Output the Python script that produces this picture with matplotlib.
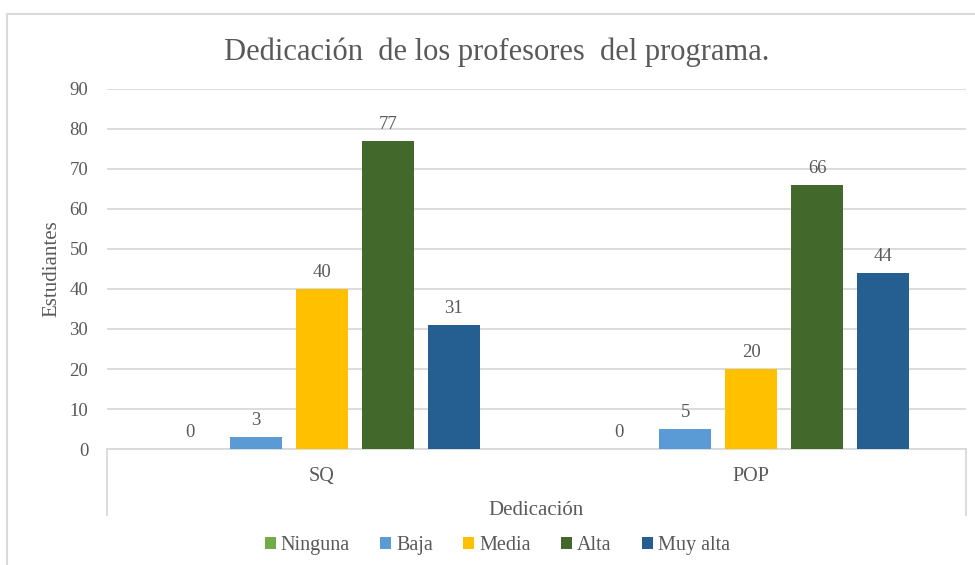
import matplotlib.pyplot as plt
import matplotlib.patches as mpatches
import numpy as np

# data
categories = ["SQ", "POP"]
levels = ["Ninguna", "Baja", "Media", "Alta", "Muy alta"]
values = {
    "Ninguna": [0, 0],
    "Baja": [3, 5],
    "Media": [40, 20],
    "Alta": [77, 66],
    "Muy alta": [31, 44],
}
colors = ["#70AD47", "#5B9BD5", "#FFC000", "#43682B", "#255E91"]

text_color = "#595959"
grid_color = "#D9D9D9"
plt.rcParams["font.family"] = ["Liberation Serif", "DejaVu Serif"]

fig = plt.figure(figsize=(9.75, 5.65), dpi=100)
ax = fig.add_axes([0.1097, 0.2053, 0.8811, 0.6372])

x = np.arange(len(categories))
step = 0.1537
width = 0.121
for i, (lvl, col) in enumerate(zip(levels, colors)):
    offs = (i - 2) * step
    bars = ax.bar(x + offs, values[lvl], width, color=col, label=lvl, zorder=3)
    ax.bar_label(bars, padding=6, fontsize=13.5, color=text_color)

ax.set_xlim(-0.5, 1.5)
ax.set_ylim(0, 90)
ax.set_yticks(np.arange(0, 91, 10))
ax.set_xticks(x)
ax.set_xticklabels(categories)
ax.tick_params(axis="both", length=0, labelcolor=text_color)
ax.tick_params(axis="y", pad=13.5, labelsize=13.5)
ax.tick_params(axis="x", pad=13, labelsize=14.5)
ax.grid(axis="y", color=grid_color, linewidth=1.3, zorder=0)
for s in ["top", "left", "right"]:
    ax.spines[s].set_visible(False)
ax.spines["bottom"].set_color(grid_color)
ax.spines["bottom"].set_linewidth(1.3)

# category box lines below the axis
for xa in [0, 1]:
    ax.plot([xa, xa], [0, -0.183], transform=ax.transAxes, color=grid_color,
            linewidth=1.3, clip_on=False)

ax.set_ylabel("Estudiantes", fontsize=15, color=text_color, labelpad=6)
ax.set_xlabel("Dedicación", fontsize=15, color=text_color, labelpad=11)

fig.text(0.509, 0.907, "Dedicación  de los profesores  del programa.", ha="center",
         va="center", fontsize=22, color=text_color)

# chart border (right and bottom edges run off the canvas)
fig.patches.append(mpatches.Rectangle((7 / 975, -0.1), 1.2, 1.1 - 14 / 565, transform=fig.transFigure,
                                      fill=False, edgecolor=grid_color, linewidth=1.5))

fig.legend(loc="center", bbox_to_anchor=(0.51, 0.034), ncol=5, frameon=False,
           fontsize=14.5, labelcolor=text_color, handlelength=0.55, handleheight=0.55,
           handletextpad=0.25, columnspacing=1.5)

fig.savefig("out.png", dpi=100)
